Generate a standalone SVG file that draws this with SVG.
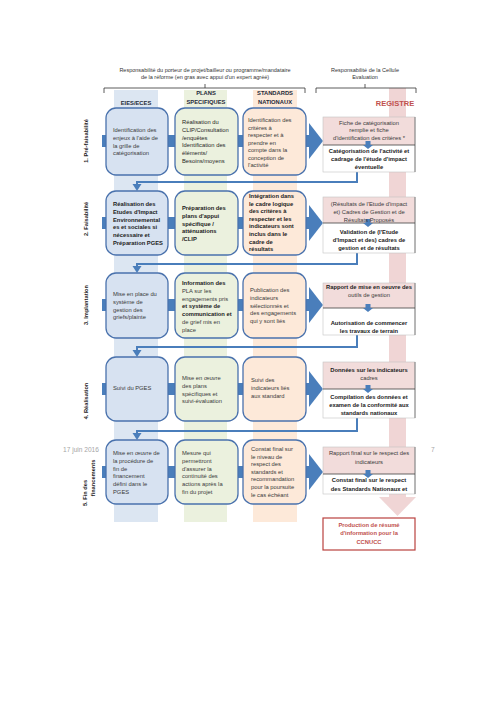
<svg xmlns="http://www.w3.org/2000/svg" width="500" height="708" viewBox="0 0 500 708">
<style>
text{font-family:"Liberation Sans",Arial,sans-serif;}
.t{font-size:5.8px;fill:#3a3a3a;}
.d{fill:#1f1f1f;}
.b{font-weight:bold;fill:#222;}
.c{text-anchor:middle;}
.hd{font-size:5.5px;fill:#333;}
.ch{font-size:5.8px;font-weight:bold;fill:#1f2a38;text-anchor:middle;}
.rl{font-size:5.7px;font-weight:bold;fill:#222;text-anchor:middle;}
.ft{font-size:6.6px;fill:#a6a6a6;}
.nb{fill:#d7e2f1;stroke:#4a72ad;stroke-width:1.3;}
.ng{fill:#ebf1de;stroke:#4a72ad;stroke-width:1.3;}
.no{fill:#fde9d9;stroke:#4a72ad;stroke-width:1.3;}
.pk{fill:#f2dcdb;}
.wh{fill:#ffffff;}
.ol{fill:none;stroke:#c4c4c4;stroke-width:0.6;}
.re{stroke:#808080;stroke-width:1;}
.dv{stroke:#404040;stroke-width:0.8;}
.bar{fill:#4a7ebb;}
.ret{fill:none;stroke:#4a7ebb;stroke-width:2;}
.br{fill:none;stroke:#333;stroke-width:0.8;}
</style>
<rect width="500" height="708" fill="#ffffff"/>

<!-- column bands -->
<g id="bands">
<rect x="114" y="90" width="44" height="432" fill="#dce6f2"/>
<rect x="184" y="90" width="43" height="432" fill="#ebf1de"/>
<rect x="253" y="90" width="44" height="432" fill="#fde9d9"/>
<rect x="389" y="88" width="17" height="409" fill="#f0d5d5"/>
<polygon points="379,497 416,497 397.5,516" fill="#f0d5d5"/>
</g>

<!-- headers -->
<g id="headers">
<text class="hd c" x="205" y="72">Responsabilité du porteur de projet/bailleur ou programme/mandataire</text>
<text class="hd c" x="205" y="79">de la réforme (en gras avec appui d'un expert agréé)</text>
<text class="hd c" x="365" y="72">Responsabilité de la Cellule</text>
<text class="hd c" x="365" y="79">Evaluation</text>
<path class="br" d="M104,93 V88 H305 V93 M205,88 V84"/>
<path class="br" d="M316,93 V88 H416 V93 M365,88 V84"/>
<text class="ch" x="136" y="105">EIES/ECES</text>
<text class="ch" x="206" y="95">PLANS</text>
<text class="ch" x="206" y="104">SPECIFIQUES</text>
<text class="ch" x="275" y="95">STANDARDS</text>
<text class="ch" x="275" y="104">NATIONAUX</text>
<text x="395" y="106" font-size="7.5" font-weight="bold" fill="#c0504d" text-anchor="middle">REGISTRE</text>
</g>

<!-- row labels -->
<g id="row-labels">
<text class="rl" transform="translate(88,141) rotate(-90)">1. Pré-faisabilité</text>
<text class="rl" transform="translate(88,219) rotate(-90)">2. Faisabilité</text>
<text class="rl" transform="translate(88,305) rotate(-90)">3. Implantation</text>
<text class="rl" transform="translate(88,401) rotate(-90)">4. Réalisation</text>
<text class="rl" transform="translate(87,493) rotate(-90)">5. Fin des</text>
<text class="rl" transform="translate(95,478) rotate(-90)">financements</text>
</g>

<!-- footer -->
<g id="footer">
<text class="ft" x="63" y="452">17 juin 2016</text>
<text class="ft" x="431" y="452">7</text>
</g>

<!-- connectors -->
<g id="connectors">
<rect class="bar" x="102" y="135" width="208" height="12"/>
<polygon class="bar" points="309,123 323,141 309,159"/>
<rect class="bar" x="102" y="217" width="208" height="12"/>
<polygon class="bar" points="309,205 323,223 309,241"/>
<rect class="bar" x="102" y="299" width="208" height="12"/>
<polygon class="bar" points="309,287 323,305 309,323"/>
<rect class="bar" x="102" y="383" width="208" height="12"/>
<polygon class="bar" points="309,371 323,389 309,407"/>
<rect class="bar" x="102" y="466" width="208" height="12"/>
<polygon class="bar" points="309,454 323,472 309,490"/>

<path class="ret" d="M357,172 V182 H137 V185"/>
<polygon class="bar" points="132.5,184 141.5,184 137,191"/>
<path class="ret" d="M357,253 V264 H137 V267"/>
<polygon class="bar" points="132.5,266 141.5,266 137,273"/>
<path class="ret" d="M357,335 V347 H137 V350"/>
<polygon class="bar" points="132.5,350 141.5,350 137,357"/>
<path class="ret" d="M357,418 V431 H137 V434"/>
<polygon class="bar" points="132.5,433 141.5,433 137,440"/>
</g>

<!-- Row 1 -->
<g id="r1-eies">
<rect class="nb" x="106" y="108" width="62" height="67" rx="10"/>
<text class="t" x="113" y="132">Identification des</text>
<text class="t" x="113" y="139.8">enjeux à l'aide de</text>
<text class="t" x="113" y="147.6">la grille de</text>
<text class="t" x="113" y="155.4">catégorisation</text>
</g>
<g id="r1-plans">
<rect class="ng" x="175" y="108" width="63" height="67" rx="10"/>
<text class="t d" x="182" y="124">Réalisation du</text>
<text class="t d" x="182" y="131.8">CLIP/Consultation</text>
<text class="t d" x="182" y="139.6">/enquêtes</text>
<text class="t d" x="182" y="147.4">Identification des</text>
<text class="t d" x="182" y="155.2">éléments/</text>
<text class="t d" x="182" y="163">Besoins/moyens</text>
</g>
<g id="r1-standards">
<rect class="no" x="243" y="108" width="63" height="67" rx="10"/>
<text class="t" x="248" y="122">Identification des</text>
<text class="t" x="248" y="129.5">critères à</text>
<text class="t" x="248" y="137">respecter et à</text>
<text class="t" x="248" y="144.5">prendre en</text>
<text class="t" x="248" y="152">compte dans la</text>
<text class="t" x="248" y="159.5">conception de</text>
<text class="t" x="248" y="167">l'activité</text>
</g>
<g id="r1-registre">
<rect class="pk" x="323" y="117" width="92" height="28"/>
<rect class="wh" x="323" y="145" width="92" height="27"/>
<rect class="ol" x="323" y="117" width="92" height="55"/>
<line class="re" x1="415" y1="117" x2="415" y2="172"/>
<line class="dv" x1="323" y1="145" x2="415" y2="145"/>
<rect class="bar" x="365.5" y="141" width="5" height="4"/>
<polygon class="bar" points="363,145 373,145 368,149"/>
<text class="t c" x="369" y="125">Fiche de catégorisation</text>
<text class="t c" x="369" y="132">remplie et fiche</text>
<text class="t c" x="369" y="140">d'identification des critères *</text>
<text class="t b c" x="369" y="153">Catégorisation de l'activité et</text>
<text class="t b c" x="369" y="161">cadrage de l'étude d'impact</text>
<text class="t b c" x="369" y="169">éventuelle</text>
</g>

<!-- Row 2 -->
<g id="r2-eies">
<rect class="nb" x="106" y="191" width="62" height="64" rx="10"/>
<text class="t b" x="113" y="206">Réalisation des</text>
<text class="t b" x="113" y="213.8">Etudes d'Impact</text>
<text class="t b" x="113" y="221.6">Environnemental</text>
<text class="t b" x="113" y="229.4">es et sociales si</text>
<text class="t b" x="113" y="237.2">nécessaire et</text>
<text class="t b" x="113" y="245">Préparation PGES</text>
</g>
<g id="r2-plans">
<rect class="ng" x="175" y="191" width="63" height="64" rx="10"/>
<text class="t b" x="182" y="210">Préparation des</text>
<text class="t b" x="182" y="217.8">plans d'appui</text>
<text class="t b" x="182" y="225.6">spécifique /</text>
<text class="t b" x="182" y="233.4">atténuations</text>
<text class="t b" x="182" y="241.2">/CLIP</text>
</g>
<g id="r2-standards">
<rect class="no" x="243" y="191" width="63" height="64" rx="10"/>
<text class="t b" x="249" y="198">Intégration dans</text>
<text class="t b" x="249" y="205.6">le cadre logique</text>
<text class="t b" x="249" y="213.2">des critères à</text>
<text class="t b" x="249" y="220.8">respecter et les</text>
<text class="t b" x="249" y="228.4">indicateurs sont</text>
<text class="t b" x="249" y="236">inclus dans le</text>
<text class="t b" x="249" y="243.6">cadre de</text>
<text class="t b" x="249" y="251.2">résultats</text>
</g>
<g id="r2-registre">
<rect class="pk" x="323" y="197" width="92" height="26"/>
<rect class="wh" x="323" y="223" width="92" height="30"/>
<rect class="ol" x="323" y="197" width="92" height="56"/>
<line class="re" x1="415" y1="197" x2="415" y2="253"/>
<line class="dv" x1="323" y1="223" x2="415" y2="223"/>
<rect class="bar" x="365.5" y="219" width="5" height="4"/>
<polygon class="bar" points="363,223 373,223 368,227"/>
<text class="t c" x="369" y="206">(Résultats de l'Etude d'impact</text>
<text class="t c" x="369" y="214">et) Cadres de Gestion et de</text>
<text class="t c" x="369" y="222">Résultats Proposés</text>
<text class="t b c" x="369" y="234">Validation de (l'Etude</text>
<text class="t b c" x="369" y="242">d'Impact et des) cadres de</text>
<text class="t b c" x="369" y="250">gestion et de résultats</text>
</g>

<!-- Row 3 -->
<g id="r3-eies">
<rect class="nb" x="106" y="273" width="62" height="65" rx="10"/>
<text class="t" x="113" y="296">Mise en place du</text>
<text class="t" x="113" y="303.8">système de</text>
<text class="t" x="113" y="311.6">gestion des</text>
<text class="t" x="113" y="319.4">griefs/plainte</text>
</g>
<g id="r3-plans">
<rect class="ng" x="175" y="273" width="63" height="65" rx="10"/>
<text class="t b" x="182" y="285">Information des</text>
<text class="t" x="182" y="292.8">PLA sur les</text>
<text class="t" x="182" y="300.6">engagements pris</text>
<text class="t b" x="182" y="308.4">et système de</text>
<text class="t b" x="182" y="316.2">communication et</text>
<text class="t" x="182" y="324">de grief mis en</text>
<text class="t" x="182" y="331.8">place</text>
</g>
<g id="r3-standards">
<rect class="no" x="243" y="273" width="63" height="65" rx="10"/>
<text class="t" x="250" y="292">Publication des</text>
<text class="t" x="250" y="299.8">indicateurs</text>
<text class="t" x="250" y="307.6">sélectionnés et</text>
<text class="t" x="250" y="315.4">des engagements</text>
<text class="t" x="250" y="323.2">qui y sont liés</text>
</g>
<g id="r3-registre">
<rect class="pk" x="323" y="283" width="92" height="25"/>
<rect class="wh" x="323" y="308" width="92" height="27"/>
<rect class="ol" x="323" y="283" width="92" height="52"/>
<line class="re" x1="415" y1="283" x2="415" y2="335"/>
<line class="dv" x1="323" y1="308" x2="415" y2="308"/>
<rect class="bar" x="365.5" y="304" width="5" height="4"/>
<polygon class="bar" points="363,308 373,308 368,312"/>
<text class="t b c" x="369" y="289">Rapport de mise en oeuvre des</text>
<text class="t c" x="369" y="297">outils de gestion</text>
<text class="t b c" x="369" y="325">Autorisation de commencer</text>
<text class="t b c" x="369" y="333">les travaux de terrain</text>
</g>

<!-- Row 4 -->
<g id="r4-eies">
<rect class="nb" x="106" y="357" width="62" height="64" rx="10"/>
<text class="t" x="113" y="390">Suivi du PGES</text>
</g>
<g id="r4-plans">
<rect class="ng" x="175" y="357" width="63" height="64" rx="10"/>
<text class="t" x="182" y="380">Mise en œuvre</text>
<text class="t" x="182" y="387.8">des plans</text>
<text class="t" x="182" y="395.6">spécifiques et</text>
<text class="t" x="182" y="403.4">suivi-évaluation</text>
</g>
<g id="r4-standards">
<rect class="no" x="243" y="357" width="63" height="64" rx="10"/>
<text class="t" x="251" y="382">Suivi des</text>
<text class="t" x="251" y="390">indicateurs liés</text>
<text class="t" x="251" y="398">aux standard</text>
</g>
<g id="r4-registre">
<rect class="pk" x="323" y="362" width="92" height="27"/>
<rect class="wh" x="323" y="389" width="92" height="29"/>
<rect class="ol" x="323" y="362" width="92" height="56"/>
<line class="re" x1="415" y1="362" x2="415" y2="418"/>
<line class="dv" x1="323" y1="389" x2="415" y2="389"/>
<rect class="bar" x="365.5" y="385" width="5" height="4"/>
<polygon class="bar" points="363,389 373,389 368,393"/>
<text class="t b c" x="369" y="372">Données sur les indicateurs</text>
<text class="t c" x="369" y="380">cadres</text>
<text class="t b c" x="369" y="399">Compilation des données et</text>
<text class="t b c" x="369" y="407">examen de la conformité aux</text>
<text class="t b c" x="369" y="415">standards nationaux</text>
</g>

<!-- Row 5 -->
<g id="r5-eies">
<rect class="nb" x="106" y="440" width="62" height="64" rx="10"/>
<text class="t" x="113" y="455">Mise en œuvre de</text>
<text class="t" x="113" y="462.8">la procédure de</text>
<text class="t" x="113" y="470.6">fin de</text>
<text class="t" x="113" y="478.4">financement</text>
<text class="t" x="113" y="486.2">défini dans le</text>
<text class="t" x="113" y="494">PGES</text>
</g>
<g id="r5-plans">
<rect class="ng" x="175" y="440" width="63" height="64" rx="10"/>
<text class="t" x="182" y="455">Mesure qui</text>
<text class="t" x="182" y="462.8">permettront</text>
<text class="t" x="182" y="470.6">d'assurer la</text>
<text class="t" x="182" y="478.4">continuité des</text>
<text class="t" x="182" y="486.2">actions après la</text>
<text class="t" x="182" y="494">fin du projet</text>
</g>
<g id="r5-standards">
<rect class="no" x="243" y="440" width="63" height="64" rx="10"/>
<text class="t" x="251" y="451">Constat final sur</text>
<text class="t" x="251" y="458.6">le niveau de</text>
<text class="t" x="251" y="466.2">respect des</text>
<text class="t" x="251" y="473.8">standards et</text>
<text class="t" x="251" y="481.4">recommandation</text>
<text class="t" x="251" y="489">pour la poursuite</text>
<text class="t" x="251" y="496.6">le cas échéant</text>
</g>
<g id="r5-registre">
<rect class="pk" x="323" y="447" width="92" height="27"/>
<rect class="wh" x="323" y="474" width="92" height="20"/>
<rect class="ol" x="323" y="447" width="92" height="47"/>
<line class="re" x1="415" y1="447" x2="415" y2="494"/>
<line class="dv" x1="323" y1="474" x2="415" y2="474"/>
<rect class="bar" x="365.5" y="470" width="5" height="4"/>
<polygon class="bar" points="363,474 373,474 368,478"/>
<text class="t c" x="369" y="455">Rapport final sur le respect des</text>
<text class="t c" x="369" y="464">indicateurs</text>
<text class="t b c" x="369" y="482">Constat final sur le respect</text>
<text class="t b c" x="369" y="491">des Standards Nationaux et</text>
</g>

<g id="production">
<rect x="323" y="518" width="92" height="32" fill="#ffffff" stroke="#b9413f" stroke-width="1.2"/>
<text class="c" x="369" y="527" font-size="5.8" font-weight="bold" fill="#c0504d">Production de résumé</text>
<text class="c" x="369" y="535" font-size="5.8" font-weight="bold" fill="#c0504d">d'information pour la</text>
<text class="c" x="369" y="544" font-size="5.8" font-weight="bold" fill="#c0504d">CCNUCC</text>
</g>
</svg>
